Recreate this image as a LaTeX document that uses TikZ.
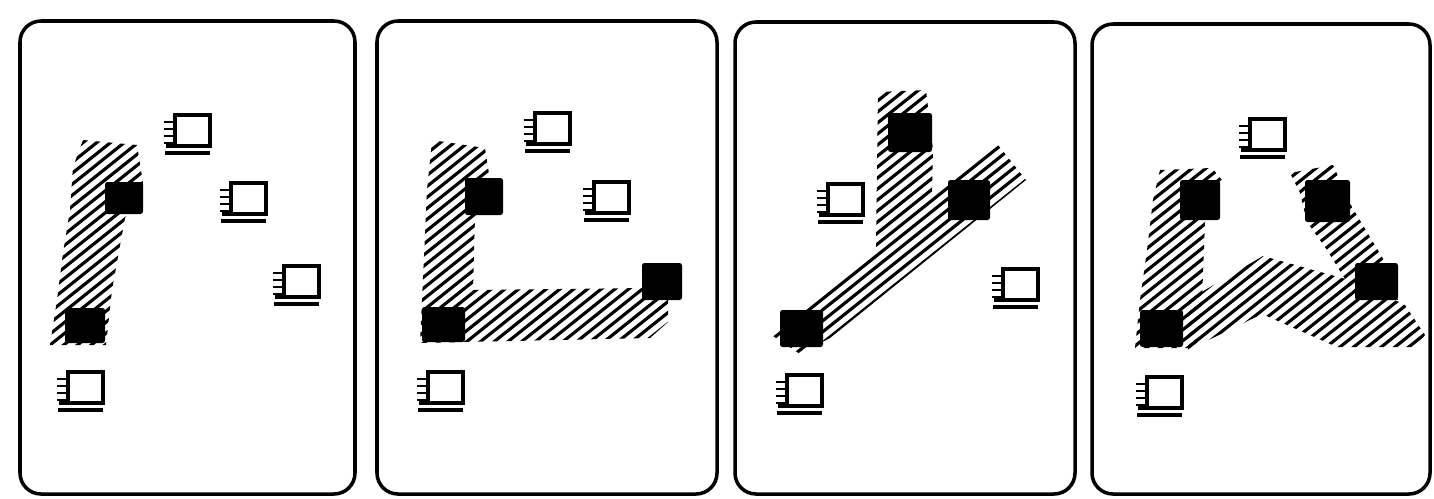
\documentclass[tikz,border=0pt]{standalone}
\tikzset{
  frame/.style={line width=2pt, rounded corners=0.42cm},
  hatchline/.style={line width=1.8pt},
  chipline/.style={line width=1.9pt},
  ticks/.style={line width=1.6pt},
  blk/.style={fill=black, rounded corners=0.05cm},
}
\newcommand\chipicon[2]{%
  \draw[chipline] (#1,#2) rectangle ++(35,31);
  \foreach \t in {7,14,21,28} \draw[ticks] (#1-11,#2+\t) -- (#1,#2+\t);
  \draw[line width=2.2pt] (#1-9,#2+31) -- (#1+35,#2+31);
  \draw[chipline] (#1-10,#2+38) -- (#1+35,#2+38);
}
\newcommand\hatchregion[3]{%
  \begin{scope}
    \clip #3;
    \foreach \k in {0,11,...,1700} \draw[hatchline] (#1,\k-0.8*#1) -- (#2,\k-0.8*#2);
  \end{scope}}
\begin{document}
\begin{tikzpicture}[x=0.02cm,y=-0.02cm]
\useasboundingbox (0,0) rectangle (1434,498);
% ---------- hatched bands ----------
% panel 1
\hatchregion{40}{160}{(83,140) -- (137,145) -- (143,183) -- (125,218) -- (112,290) -- (106,345) -- (50,345) -- (57,300) -- (63,253) -- (70,210) -- (73,167) -- cycle}
% panel 2
\hatchregion{410}{680}{(432,140) -- (485,148) -- (490,180) -- (475,217) -- (473,290) -- (645,288) -- (668,300) -- (668,322) -- (650,338) -- (420,343) -- (422,300) -- (427,190) -- cycle}
% panel 3
\hatchregion{760}{1040}{(878,92) -- (926,90) -- (933,150) -- (932,196) -- (998,145) -- (1026,180) -- (830,338) -- (800,354) -- (770,334) -- (876,248) -- cycle}
% panel 4
\hatchregion{1120}{1240}{(1160,170) -- (1212,168) -- (1222,180) -- (1205,222) -- (1202,300) -- (1197,348) -- (1135,348) -- (1140,300) -- (1147,250) -- (1153,200) -- cycle}
\hatchregion{1180}{1430}{(1188,300) -- (1263,256) -- (1360,283) -- (1405,305) -- (1425,335) -- (1415,347) -- (1337,347) -- (1262,314) -- (1188,350) -- cycle}
\hatchregion{1280}{1410}{(1290,173) -- (1333,165) -- (1352,207) -- (1385,262) -- (1398,300) -- (1353,292) -- (1327,250) -- (1307,222) -- (1300,193) -- cycle}
% ---------- black squares ----------
\fill[blk] (105,182) rectangle (143,214);
\fill[blk] (65,308) rectangle (105,343);
\fill[blk] (465,178) rectangle (503,215);
\fill[blk] (642,263) rectangle (682,300);
\fill[blk] (422,307) rectangle (465,342);
\fill[blk] (888,113) rectangle (932,152);
\fill[blk] (948,180) rectangle (990,220);
\fill[blk] (780,310) rectangle (823,347);
\fill[blk] (1180,180) rectangle (1220,220);
\fill[blk] (1305,180) rectangle (1350,222);
\fill[blk] (1355,263) rectangle (1398,300);
\fill[blk] (1140,310) rectangle (1183,347);
% ---------- white chip icons ----------
\chipicon{175}{115}
\chipicon{231}{183}
\chipicon{284}{266}
\chipicon{68}{372}
\chipicon{535}{113}
\chipicon{594}{182}
\chipicon{428}{372}
\chipicon{828}{184}
\chipicon{1003}{269}
\chipicon{787}{375}
\chipicon{1250}{119}
\chipicon{1147}{377}
% ---------- frames ----------
\draw[frame] (20,21) rectangle (355,494);
\draw[frame] (377,21) rectangle (717,494);
\draw[frame] (735,22) rectangle (1075,494);
\draw[frame] (1092,24) rectangle (1430,494);
\end{tikzpicture}
\end{document}
